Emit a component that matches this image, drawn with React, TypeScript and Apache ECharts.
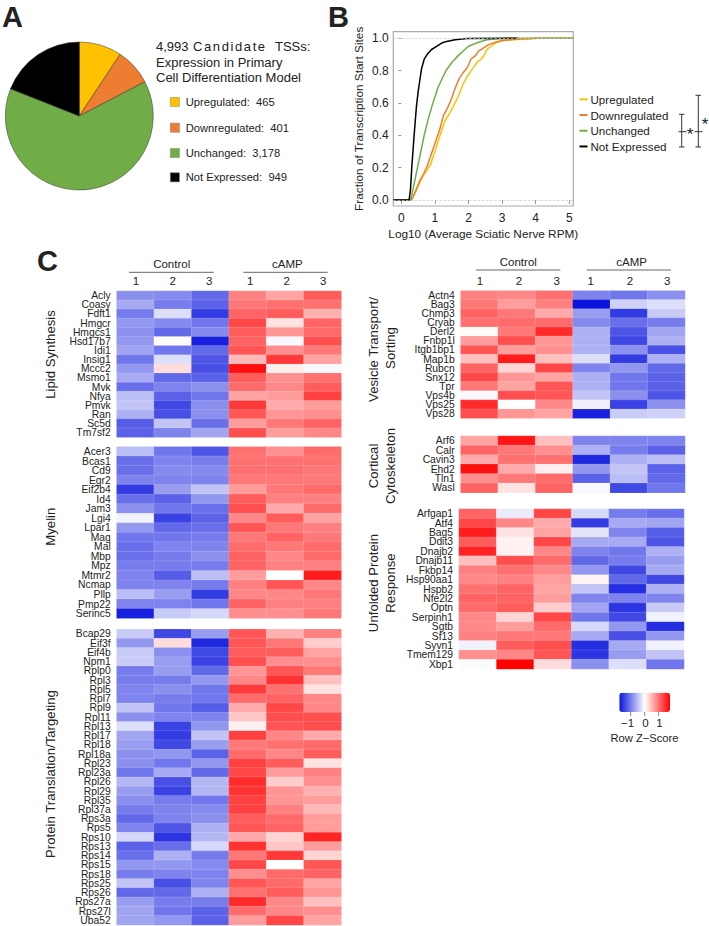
import React, { useEffect, useRef } from "react";
import * as echarts from "echarts";

const FONT = "'Liberation Sans', Arial, sans-serif";
const TEXT = "#222";

// Panel A
const pieNames = ["Upregulated", "Downregulated", "Unchanged", "Not Expressed"];
const pieValues = [465, 401, 3178, 949];
const pieColors = ["#FFC000", "#ED7D31", "#70AD47", "#000000"];
const pieLegend = ["Upregulated:  465", "Downregulated:  401", "Unchanged:  3,178", "Not Expressed:  949"];

// Panel B
const upregulatedCdf = [[-0.24,0],[0.3,0],[0.35,0.02],[0.45,0.06],[0.55,0.11],[0.65,0.15],[0.75,0.18],[0.87,0.22],[0.95,0.27],[1.03,0.32],[1.12,0.38],[1.2,0.43],[1.3,0.49],[1.42,0.53],[1.55,0.58],[1.65,0.62],[1.75,0.67],[1.85,0.72],[1.95,0.76],[2.05,0.79],[2.15,0.82],[2.25,0.85],[2.37,0.87],[2.45,0.89],[2.55,0.93],[2.67,0.95],[2.8,0.97],[3.0,0.985],[3.3,0.99],[3.7,0.993],[4.1,1],[5.12,1]];
const downregulatedCdf = [[-0.24,0],[0.3,0],[0.35,0.02],[0.45,0.07],[0.55,0.12],[0.68,0.17],[0.77,0.21],[0.87,0.27],[0.97,0.33],[1.05,0.38],[1.15,0.44],[1.25,0.52],[1.4,0.58],[1.5,0.63],[1.6,0.69],[1.72,0.75],[1.85,0.79],[1.97,0.82],[2.07,0.87],[2.2,0.89],[2.3,0.92],[2.45,0.94],[2.6,0.96],[2.8,0.975],[3.0,0.985],[3.4,0.993],[4.0,1],[5.12,1]];
const unchangedCdf = [[-0.24,0],[0.28,0],[0.33,0.05],[0.4,0.12],[0.48,0.2],[0.58,0.3],[0.68,0.4],[0.8,0.5],[0.94,0.6],[1.1,0.7],[1.33,0.8],[1.5,0.85],[1.73,0.9],[2.0,0.95],[2.3,0.975],[2.55,0.99],[2.9,0.996],[3.3,1],[5.12,1]];
const notExpressedCdf = [[-0.24,0],[0.23,0],[0.27,0.06],[0.31,0.2],[0.38,0.4],[0.45,0.58],[0.5,0.67],[0.55,0.74],[0.6,0.81],[0.68,0.87],[0.77,0.9],[0.9,0.93],[1.05,0.95],[1.2,0.97],[1.35,0.98],[1.6,0.99],[1.95,0.998],[3.45,1]];
const cdfTicksX = [0, 1, 2, 3, 4, 5];
const cdfTicksY = [0, 0.2, 0.4, 0.6, 0.8, 1];

// Panel C
const lipidGenes = ["Acly","Coasy","Fdft1","Hmgcr","Hmgcs1","Hsd17b7","Idi1","Insig1","Mccc2","Msmo1","Mvk","Nfya","Pmvk","Ran","Sc5d","Tm7sf2"];
const lipidValues = [
[-0.85,-0.9,-1.15,0.9,0.65,1.15],[-0.65,-1.0,-1.2,0.95,1.0,1.0],[-1.0,-0.25,-1.5,1.1,1.15,0.55],[-0.8,-0.9,-1.05,1.3,0.2,1.1],
[-0.85,-1.15,-0.9,1.15,0.75,1.05],[-0.8,0.03,-1.7,1.1,-0.05,1.25],[-0.7,-1.05,-1.15,1.2,0.8,0.95],[-1.05,-0.25,-1.3,0.5,1.4,0.65],
[-0.8,0.25,-1.35,1.7,0.12,-0.05],[-0.65,-1.15,-1.2,1.15,0.8,1.0],[-1.1,-0.95,-0.85,1.05,0.85,1.15],[-0.5,-1.2,-1.05,0.65,0.7,1.35],
[-0.45,-1.4,-0.85,1.4,0.6,0.7],[-0.6,-1.35,-0.85,1.2,0.75,0.8],[-1.25,-0.45,-1.1,0.7,0.95,1.1],[-1.2,-0.95,-0.7,1.25,0.7,0.85]];
const myelinGenes = ["Acer3","Bcas1","Cd9","Egr2","Eif2b4","Id4","Jam3","Lgi4","Lpar1","Mag","Mal","Mbp","Mpz","Mtmr2","Ncmap","Pllp","Pmp22","Serinc5"];
const myelinValues = [
[-0.5,-1.05,-1.3,1.0,0.8,1.05],[-1.1,-0.95,-1.0,1.0,1.0,1.0],[-1.1,-0.9,-0.9,1.0,1.0,0.95],[-0.95,-0.95,-0.95,0.95,0.95,0.95],
[-1.5,-0.75,-0.45,0.7,0.95,1.05],[-1.1,-1.2,-0.8,1.15,0.9,0.9],[-0.85,-1.05,-1.1,1.25,0.6,1.05],[-0.1,-1.45,-1.2,0.85,1.15,0.65],
[-0.8,-1.15,-1.1,1.2,0.95,0.9],[-1.05,-1.05,-1.0,0.95,1.1,0.95],[-1.1,-0.95,-0.95,1.05,0.95,1.05],[-1.1,-1.0,-0.85,1.1,0.85,1.05],
[-1.0,-1.0,-1.0,1.1,0.9,0.9],[-0.95,-1.25,-0.5,0.7,0.0,1.6],[-0.95,-0.95,-1.0,0.9,1.2,0.85],[-0.5,-0.75,-1.5,0.85,0.85,0.95],
[-0.95,-0.95,-1.05,1.1,0.9,0.9],[-1.7,-0.4,-0.3,0.8,0.8,0.95]];
const translationGenes = ["Bcap29","Eif3f","Eif4b","Npm1","Rplp0","Rpl3","Rpl5","Rpl7","Rpl9","Rpl11","Rpl13","Rpl17","Rpl18","Rpl18a","Rpl23","Rpl23a","Rpl26","Rpl29","Rpl35","Rpl37a","Rps3a","Rps5","Rps10","Rps13","Rps14","Rps15","Rps18","Rps25","Rps26","Rps27a","Rps27l","Uba52"];
const translationValues = [
[-0.4,-1.4,-0.75,1.2,0.55,0.9],[-0.8,0.25,-1.65,1.2,0.95,0.35],[-0.4,-0.85,-1.4,1.15,1.15,0.65],[-0.4,-0.75,-1.45,1.25,0.8,0.8],
[-1.0,-0.75,-1.15,0.75,1.2,0.95],[-1.0,-1.0,-0.8,0.85,1.45,0.45],[-0.95,-0.85,-1.05,1.4,1.0,0.2],[-0.95,-1.0,-1.05,1.05,1.1,0.85],
[-0.45,-1.05,-1.25,0.6,1.3,0.85],[-0.85,-0.95,-0.95,0.4,1.25,1.25],[-0.25,-1.45,-0.8,0.1,1.2,1.25],[-0.7,-1.5,-0.45,1.35,0.85,0.6],
[-0.75,-1.4,-0.75,0.95,1.0,1.05],[-0.85,-0.8,-1.2,1.05,0.85,1.15],[-0.85,-1.05,-0.8,1.35,1.15,0.2],[-1.05,-0.65,-1.15,1.3,0.7,0.9],
[-0.55,-1.35,-0.55,1.5,0.35,0.8],[-0.75,-1.45,-0.55,1.45,0.75,0.55],[-0.85,-1.0,-1.05,1.35,0.75,0.7],[-1.0,-0.95,-0.9,1.35,0.9,0.5],
[-1.15,-0.95,-0.85,1.15,1.05,0.7],[-0.95,-1.3,-0.6,1.2,1.1,0.7],[-0.3,-1.55,-0.55,0.6,0.3,1.55],[-1.2,-1.1,-0.3,1.45,0.4,0.7],
[-1.1,-0.6,-1.0,0.95,1.4,0.3],[-0.8,-0.8,-0.9,1.3,0.0,1.2],[-1.0,-0.95,-0.95,0.8,1.05,1.1],[-0.45,-1.35,-0.95,1.2,1.05,0.65],
[-1.15,-1.15,-0.6,1.0,1.15,0.75],[-0.75,-1.0,-1.0,1.5,0.85,0.45],[-0.7,-1.05,-1.2,1.05,0.85,0.8],[-0.7,-0.8,-1.2,0.7,1.3,0.65]];
const vesicleGenes = ["Actn4","Bag3","Chmp3","Cryab","Derl2","Fnbp1l","Itgb1bp1","Map1b","Rubcn","Snx12","Tpr","Vps4b","Vps25","Vps28"];
const vesicleValues = [
[0.9,0.85,1.0,-0.95,-1.05,-0.85],[0.95,0.7,0.9,-1.8,-0.35,-0.25],[1.1,0.95,0.6,-0.75,-1.5,-0.4],[1.0,1.05,1.05,-0.9,-1.1,-1.0],
[0.03,0.95,1.5,-0.6,-1.3,-0.7],[0.7,1.25,0.75,-0.6,-1.4,-0.6],[1.2,0.7,0.8,-0.6,-0.85,-1.35],[0.45,1.6,0.45,-0.25,-1.5,-0.6],
[1.1,0.3,1.3,-0.95,-0.8,-1.15],[1.3,0.75,0.65,-0.6,-1.05,-1.2],[0.95,0.65,1.2,-0.6,-1.05,-1.2],[-0.05,1.25,1.2,-0.45,-0.85,-1.3],
[1.5,0.0,0.85,-0.12,-1.45,-0.85],[1.25,0.75,0.65,-1.7,-0.4,-0.35]];
const corticalGenes = ["Arf6","Calr","Cavin3","Ehd2","Tln1","Wasl"];
const corticalValues = [
[0.65,1.65,0.45,-0.95,-0.95,-0.95],[1.1,0.95,0.8,-0.6,-1.0,-1.2],[0.6,1.0,1.0,-1.65,-0.6,-0.5],
[1.7,0.6,0.12,-0.8,-0.45,-1.2],[0.8,0.95,1.05,-1.2,-0.5,-1.15],[1.1,0.2,1.1,-0.05,-1.4,-1.05]];
const unfoldedGenes = ["Arfgap1","Atf4","Bag5","Ddit3","Dnajb2","Dnajb11","Fkbp14","Hsp90aa1","Hspb2","Nfe2l2","Optn","Serpinh1","Sgtb","Sf13","Syvn1","Tmem129","Xbp1"];
const unfoldedValues = [
[1.1,-0.15,1.3,-0.3,-1.0,-1.1],[1.3,0.85,0.6,-1.5,-0.65,-0.7],[1.6,0.2,0.65,-0.2,-0.95,-1.25],[1.15,0.1,1.3,-0.65,-0.65,-1.3],
[1.55,0.1,0.85,-0.95,-1.05,-0.6],[0.45,1.25,1.05,-1.15,-1.0,-0.75],[0.9,1.0,0.85,-0.8,-1.4,-0.65],[0.85,0.9,0.7,0.08,-1.15,-1.4],
[1.0,1.1,0.65,-0.45,-1.6,-0.6],[1.1,1.1,0.7,-0.95,-0.95,-0.95],[1.05,1.15,0.35,-0.7,-1.55,-0.4],[0.85,0.3,1.3,-1.05,-1.4,-0.1],
[0.85,0.7,1.05,-0.3,-0.8,-1.6],[0.9,0.95,0.95,-0.65,-1.35,-0.8],[-0.1,1.15,1.25,-1.6,-0.65,-0.1],[0.8,0.85,1.2,-1.55,-0.75,-0.45],
[-0.03,1.8,0.25,-0.85,-0.25,-1.05]];
const columns = ["Control 1","Control 2","Control 3","cAMP 1","cAMP 2","cAMP 3"];

const heatPanels = [
  { genes: lipidGenes, values: lipidValues, left: 116.7, top: 291, width: 224.6, height: 146.3 },
  { genes: myelinGenes, values: myelinValues, left: 116.7, top: 446.7, width: 224.6, height: 171.6 },
  { genes: translationGenes, values: translationValues, left: 116.7, top: 629.3, width: 224.6, height: 295.7 },
  { genes: vesicleGenes, values: vesicleValues, left: 460.7, top: 290.7, width: 224.3, height: 127.6 },
  { genes: corticalGenes, values: corticalValues, left: 460.7, top: 436, width: 224.3, height: 56.7 },
  { genes: unfoldedGenes, values: unfoldedValues, left: 459, top: 509, width: 225, height: 160 },
];

const txt = (text: string, x: number, y: number, fontSize: number, extra: any = {}, rotation = 0) => ({
  type: "text", x, y, rotation, silent: true,
  style: {
    text, fontSize, fontFamily: FONT, fill: TEXT,
    align: extra.align || "left", textAlign: extra.align || "left",
    verticalAlign: "middle", textVerticalAlign: "middle",
    fontWeight: extra.fontWeight || "normal",
  },
});
const seg = (x1: number, y1: number, x2: number, y2: number, stroke = "#333", lineWidth = 1) => ({
  type: "line", silent: true, shape: { x1, y1, x2, y2 }, style: { stroke, lineWidth },
});
const header = (labelX: number, lineA: number, lineB: number, labelY: number, lineY: number, numY: number, name: string, nums: number[]) => [
  txt(name, labelX, labelY, 11.5, { align: "center" }),
  seg(lineA, lineY, lineB, lineY, "#666"),
  ...nums.map((n, i) => txt(String(i + 1), n, numY, 11.5, { align: "center" })),
];

export default function App() {
  const ref = useRef<HTMLDivElement>(null);
  useEffect(() => {
    const chart = echarts.init(ref.current!, undefined, { renderer: "svg" });

    const grids: any[] = [{ left: 393.3, top: 31.7, width: 180, height: 174.3, show: true, borderColor: "#aaa", borderWidth: 1.2, backgroundColor: "transparent" }];
    const xAxes: any[] = [{
      type: "value", gridIndex: 0, min: -0.24, max: 5.12,
      name: "Log10 (Average Sciatic Nerve RPM)", nameLocation: "middle", nameGap: 22,
      nameTextStyle: { fontFamily: FONT, fontSize: 11.8, color: TEXT },
      axisLine: { show: false }, splitLine: { show: false },
      axisTick: { show: true, length: 4, lineStyle: { color: "#999" }, customValues: cdfTicksX },
      axisLabel: { customValues: cdfTicksX, fontFamily: FONT, fontSize: 12, color: TEXT, margin: 6 },
    }];
    const yAxes: any[] = [{
      type: "value", gridIndex: 0, min: -0.037, max: 1.04,
      name: "Fraction of Transcription Start Sites", nameLocation: "middle", nameGap: 28,
      nameTextStyle: { fontFamily: FONT, fontSize: 11.8, color: TEXT },
      axisLine: { show: false }, splitLine: { show: false },
      axisTick: { show: true, length: 3, lineStyle: { color: "#999" }, customValues: cdfTicksY },
      axisLabel: { customValues: cdfTicksY, formatter: (v: number) => v.toFixed(1), fontFamily: FONT, fontSize: 12, color: TEXT, margin: 4.5 },
    }];

    const lineSeries = (name: string, data: number[][], color: string, extra: any = {}) => ({
      type: "line", name, data, xAxisIndex: 0, yAxisIndex: 0, showSymbol: false, symbol: "none",
      lineStyle: { color, width: 1.5 }, itemStyle: { color }, silent: true, ...extra,
    });

    const heatSeries = heatPanels.map((p, i) => {
      grids.push({ left: p.left, top: p.top, width: p.width, height: p.height });
      xAxes.push({ type: "category", gridIndex: i + 1, data: columns, show: false });
      yAxes.push({
        type: "category", gridIndex: i + 1, data: p.genes, inverse: true,
        axisLine: { show: false }, axisTick: { show: false }, splitLine: { show: false },
        axisLabel: { interval: 0, fontFamily: FONT, fontSize: 10.3, color: TEXT, margin: 6, lineHeight: 9 },
      });
      const data: number[][] = [];
      p.values.forEach((row, r) => row.forEach((v, c) => data.push([c, r, v])));
      return {
        type: "heatmap", xAxisIndex: i + 1, yAxisIndex: i + 1, data, silent: true,
        itemStyle: { borderColor: "rgba(255,255,255,0.35)", borderWidth: 0.4 },
      };
    });

    const graphic: any[] = [
      txt("A", 2, 17, 29, { fontWeight: "bold" }),
      txt("B", 328, 17, 29, { fontWeight: "bold" }),
      txt("C", 37, 261, 29, { fontWeight: "bold" }),
      txt("4,993", 156, 46.5, 13),
      txt("Candidate", 193, 46.5, 13),
      txt("TSSs:", 275, 46.5, 13),
      txt("Expression in Primary", 156, 62, 13),
      txt("Cell Differentiation Model", 156, 77.5, 13),
      ...pieLegend.flatMap((t, i) => {
        const y = [102, 127.7, 153, 177.3][i];
        return [
          { type: "rect", silent: true, shape: { x: 170.3, y: y - 4.6, width: 9.2, height: 9.2 }, style: { fill: pieColors[i], stroke: "#888", lineWidth: 0.5 } },
          txt(t, 185.7, y, 11.2),
        ];
      }),
      // significance brackets
      seg(681.7, 114.3, 681.7, 147), seg(679, 114.3, 684.5, 114.3), seg(679, 147, 684.5, 147), seg(678.5, 131.7, 686.5, 131.7),
      seg(698.3, 95.3, 698.3, 147), seg(695.5, 95.3, 701, 95.3), seg(695.5, 147, 701, 147), seg(694.5, 131.7, 702.5, 131.7),
      txt("*", 690, 134, 17, { align: "center" }),
      txt("*", 705, 124.5, 17, { align: "center" }),
      // heatmap headers
      ...header(171.7, 129, 213.7, 264.3, 272.3, 281, "Control", [136, 172.7, 209.3]),
      ...header(287.3, 243.3, 327.7, 264.3, 272.3, 281, "cAMP", [250.3, 286.7, 323.3]),
      ...header(518.3, 476, 560.3, 262.3, 270, 280.7, "Control", [480, 519, 556.7]),
      ...header(631.7, 586.7, 671, 262.3, 270, 280.7, "cAMP", [590.7, 630, 667.3]),
      // group titles
      txt("Lipid Synthesis", 50, 354.5, 13.2, { align: "center" }, Math.PI / 2),
      txt("Myelin", 50, 526.7, 13.2, { align: "center" }, Math.PI / 2),
      txt("Protein Translation/Targeting", 50, 774, 13.2, { align: "center" }, Math.PI / 2),
      txt("Vesicle Transport/", 373.3, 349.5, 13.2, { align: "center" }, Math.PI / 2),
      txt("Sorting", 390, 348, 13.2, { align: "center" }, Math.PI / 2),
      txt("Cortical", 373.3, 466, 13.2, { align: "center" }, Math.PI / 2),
      txt("Cytoskeleton", 390, 466, 13.2, { align: "center" }, Math.PI / 2),
      txt("Unfolded Protein", 373.3, 583, 13.2, { align: "center" }, Math.PI / 2),
      txt("Response", 390, 583, 13.2, { align: "center" }, Math.PI / 2),
      // colour key ticks
      seg(630.7, 712, 630.7, 716, "#888"), seg(644.7, 712, 644.7, 716, "#888"), seg(658.7, 712, 658.7, 716, "#888"),
      txt("\u22121", 627.5, 723, 11.5, { align: "center" }),
      txt("0", 645.5, 723, 11.5, { align: "center" }),
      txt("1", 659.5, 723, 11.5, { align: "center" }),
      txt("Row Z\u2212Score", 644.5, 738, 11.2, { align: "center" }),
    ];

    chart.setOption({
      animation: false,
      backgroundColor: "#fff",
      grid: grids, xAxis: xAxes, yAxis: yAxes,
      legend: {
        show: true, orient: "vertical", left: 579.5, top: 93, padding: 0, itemGap: 3,
        itemWidth: 8, itemHeight: 2, icon: "rect", selectedMode: false,
        data: ["Upregulated", "Downregulated", "Unchanged", "Not Expressed"],
        textStyle: { fontFamily: FONT, fontSize: 11.6, color: TEXT, padding: [0, 0, 0, -2], height: 12.7, lineHeight: 12.7 },
      },
      visualMap: {
        type: "continuous", seriesIndex: heatSeries.map((_, i) => i + 5),
        min: -1.8, max: 1.8, orient: "horizontal", left: 619.3, top: 692.7, padding: 0,
        itemWidth: 19.3, itemHeight: 50.7, calculable: false, hoverLink: false, showLabel: false, text: ["", ""],
        inRange: { color: ["#0a14dc", "#ffffff", "#ff0000"] }, textStyle: { fontSize: 1, color: "transparent" },
      },
      series: [
        {
          type: "pie", center: [79.3, 116], radius: [0, 74], startAngle: 90, clockwise: true, silent: true,
          label: { show: false }, labelLine: { show: false },
          itemStyle: { borderColor: "#333", borderWidth: 0.5 },
          data: pieNames.map((n, i) => ({ name: n + " share", value: pieValues[i], itemStyle: { color: pieColors[i] } })),
        },
        lineSeries("Upregulated", upregulatedCdf, "#FFC000"),
        lineSeries("Downregulated", downregulatedCdf, "#ED7D31", {
          markLine: {
            silent: true, symbol: "none", label: { show: false }, animation: false,
            lineStyle: { color: "#ccc", type: "dashed", width: 0.7 },
            data: [{ yAxis: 0 }, { yAxis: 1 }],
          },
        }),
        lineSeries("Unchanged", unchangedCdf, "#70AD47"),
        lineSeries("Not Expressed", notExpressedCdf, "#000000"),
        ...heatSeries,
      ],
      graphic,
    });

    ref.current!.querySelectorAll("text").forEach((t) => {
      if (t.textContent === "Candidate") t.style.letterSpacing = "1.6px";
    });

    return () => chart.dispose();
  }, []);
  return <div ref={ref} style={{ position: "absolute", left: 0, top: 0, width: 709, height: 926 }} />;
}
